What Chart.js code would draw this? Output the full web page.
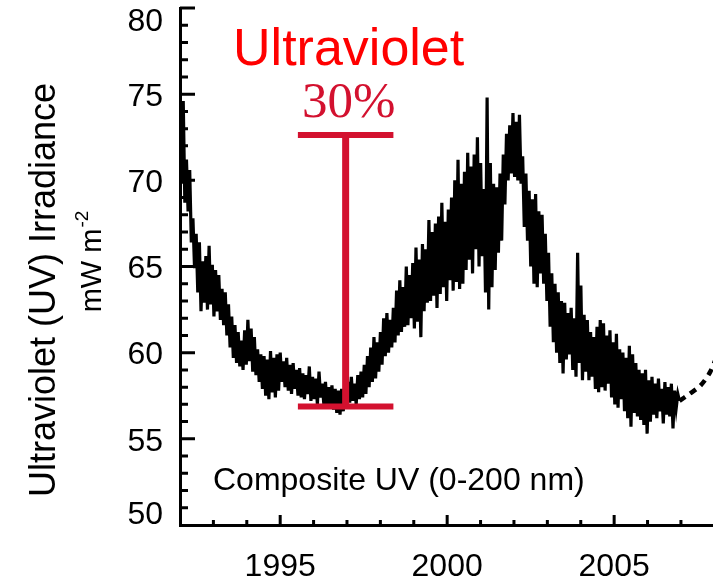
<!DOCTYPE html>
<html>
<head>
<meta charset="utf-8">
<script src="https://cdn.jsdelivr.net/npm/chart.js@4.4.1/dist/chart.umd.min.js"></script>
<style>
  html, body { margin: 0; padding: 0; background: #fff; overflow: hidden; }
</style>
</head>
<body>
<canvas id="chart" width="713" height="587"></canvas>
<script>
// composite UV, every ~0.048 yr (alternating high / low of the noisy band)
const START_YEAR = 1992.0;
const STEP = 0.0484;
const uvValues = [
  75.0, 69.8, 74.6, 68.7, 71.2, 68.2, 70.6, 66.4, 67.8, 64.9, 66.9, 63.5, 66.4, 62.4, 65.3, 62.9, 65.6, 62.5, 66.2, 62.8,
  65.1, 62.1, 64.8, 62.4, 64.5, 61.9, 63.7, 61.6, 63.5, 61.0, 62.8, 60.3, 62.1, 59.7, 61.6, 59.4, 61.2, 59.2, 60.7, 59.0,
  61.3, 59.3, 61.9, 59.5, 61.4, 58.9, 60.9, 58.7, 60.2, 58.3, 59.9, 57.9, 59.8, 57.5, 59.6, 57.3, 60.1, 57.7, 59.7, 57.4,
  59.9, 57.8, 60.0, 58.3, 59.5, 58.0, 59.7, 57.8, 59.3, 57.6, 59.4, 57.9, 59.0, 57.5, 59.1, 57.4, 58.8, 57.3, 58.7, 57.6,
  59.2, 57.2, 58.6, 57.3, 58.5, 57.0, 58.9, 57.4, 58.2, 57.0, 58.3, 56.9, 58.0, 56.8, 58.1, 56.7, 57.9, 56.5, 57.8, 56.4,
  57.9, 56.6, 58.2, 57.0, 58.3, 57.1, 58.6, 57.2, 58.2, 57.0, 58.7, 57.3, 58.9, 57.4, 59.3, 57.6, 59.8, 58.0, 60.3, 58.3,
  60.9, 58.5, 60.6, 58.9, 61.2, 59.3, 62.0, 59.8, 62.3, 60.0, 61.9, 60.3, 62.6, 60.6, 63.6, 61.0, 64.2, 61.2, 63.8, 61.5,
  65.0, 61.6, 64.5, 62.0, 65.2, 61.4, 66.1, 61.8, 65.4, 60.9, 66.3, 62.4, 66.0, 62.9, 67.7, 63.0, 67.0, 63.3, 67.5, 62.6,
  67.9, 63.4, 68.7, 63.8, 67.6, 63.0, 68.3, 64.2, 69.0, 63.6, 70.0, 64.1, 71.2, 63.7, 69.8, 64.0, 70.5, 64.8, 71.6, 65.4,
  70.8, 64.6, 71.5, 66.0, 72.5, 65.0, 71.0, 65.6, 69.5, 63.5, 74.8, 62.5, 71.0, 63.8, 69.8, 64.8, 69.6, 65.8, 70.4, 66.5,
  71.5, 68.6, 72.7, 70.0, 73.2, 70.4, 73.9, 70.2, 73.4, 70.0, 73.8, 69.8, 71.4, 67.3, 70.4, 66.5, 69.4, 65.0, 68.9, 64.0,
  69.2, 63.8, 68.2, 64.6, 68.0, 64.0, 66.9, 63.0, 65.8, 61.5, 64.6, 60.6, 64.0, 60.0, 63.5, 59.4, 63.0, 58.8, 62.9, 59.6,
  62.3, 59.9, 62.6, 59.0, 62.0, 58.6, 65.8, 59.4, 63.9, 58.4, 62.2, 58.9, 61.9, 58.4, 61.2, 58.6, 60.9, 57.9, 61.5, 57.7,
  61.9, 58.0, 61.7, 57.8, 61.0, 58.2, 61.3, 57.4, 60.6, 57.0, 61.1, 56.8, 60.2, 57.3, 60.0, 56.6, 59.7, 56.2, 60.4, 55.7,
  59.9, 56.5, 59.4, 56.3, 59.0, 56.1, 58.8, 55.8, 59.0, 55.3, 58.4, 56.0, 58.6, 56.4, 58.2, 56.2, 58.5, 56.6, 57.9, 55.9,
  58.3, 56.4, 58.0, 56.3, 58.2, 55.6, 57.8, 56.8, 57.6, 57.2
];

// dashed continuation at the right edge
const trendYears = [2006.956, 2007.25, 2007.59, 2007.88, 2008.17];
const trendValues = [57.2, 57.6, 58.1, 58.9, 60.3];

const xTicks = [1995, 2000, 2005];
const yTicks = [50, 55, 60, 65, 70, 75, 80];

// the red "30%" bar: minimum and maximum of the cycle
const barYear = 1996.96;
const barLow = 56.87;
const barHigh = 72.63;
const barHalfWidth = 1.43;

const FONT = "'Liberation Sans', Arial, Helvetica, sans-serif";
const BAR_RED = "#d3112f";

const uvPoints = uvValues.map((v, i) => ({ x: START_YEAR + i * STEP, y: v }));
const trendPoints = trendYears.map((yr, i) => ({ x: yr, y: trendValues[i] }));

// inward tick marks, IDL style, plus the y labels (end labels pulled inside like IDL does)
const tickMarks = {
  id: "tickMarks",
  afterDraw(chart) {
    const { ctx, chartArea: a, scales: { x, y } } = chart;
    ctx.save();
    ctx.strokeStyle = "#000";
    ctx.lineWidth = 3;
    ctx.beginPath();
    for (let v = 51; v <= 80; v++) {
      const py = y.getPixelForValue(v);
      const len = v % 5 === 0 ? 15 : 8;
      ctx.moveTo(a.left, py);
      ctx.lineTo(a.left + len, py);
    }
    for (let yr = 1993; yr <= 2007; yr++) {
      const px = x.getPixelForValue(yr);
      const len = yr % 5 === 0 ? 10 : 5;
      ctx.moveTo(px, a.bottom);
      ctx.lineTo(px, a.bottom - len);
    }
    ctx.stroke();

    ctx.fillStyle = "#000";
    ctx.font = "32px " + FONT;
    ctx.textAlign = "right";
    ctx.textBaseline = "middle";
    yTicks.forEach(v => {
      let py = y.getPixelForValue(v) + 3;
      if (v === 80) py += 11;
      if (v === 50) py -= 13;
      ctx.fillText(String(v), a.left - 17, py);
    });
    ctx.restore();
  }
};

// red range bar and its labels
const rangeBar = {
  id: "rangeBar",
  afterDatasetsDraw(chart) {
    const { ctx, scales: { x, y } } = chart;
    const cx = x.getPixelForValue(barYear);
    const x0 = x.getPixelForValue(barYear - barHalfWidth);
    const x1 = x.getPixelForValue(barYear + barHalfWidth);
    const top = y.getPixelForValue(barHigh);
    const bot = y.getPixelForValue(barLow);
    ctx.save();
    ctx.strokeStyle = BAR_RED;
    ctx.lineWidth = 6;
    ctx.beginPath();
    ctx.moveTo(x0, top); ctx.lineTo(x1, top);
    ctx.moveTo(x0, bot); ctx.lineTo(x1, bot);
    ctx.stroke();
    ctx.lineWidth = 7;
    ctx.beginPath();
    ctx.moveTo(cx, top); ctx.lineTo(cx, bot);
    ctx.stroke();

    ctx.textAlign = "center";
    ctx.textBaseline = "alphabetic";
    ctx.fillStyle = "#ff0000";
    ctx.font = "52px " + FONT;
    ctx.fillText("Ultraviolet", cx + 3, top - 70);
    ctx.fillStyle = BAR_RED;
    ctx.font = "51px 'Liberation Serif', 'Times New Roman', serif";
    ctx.fillText("30%", cx + 3, top - 18);
    ctx.restore();
  }
};

// axis title (two lines, second one with superscript) and panel label
const extraText = {
  id: "extraText",
  afterDraw(chart) {
    const { ctx, chartArea: a } = chart;
    ctx.save();
    ctx.fillStyle = "#000";
    ctx.font = "32px " + FONT;
    ctx.textAlign = "left";
    ctx.textBaseline = "alphabetic";
    ctx.fillText("Composite UV (0-200 nm)", a.left + 33, a.bottom - 35);

    ctx.translate(55, 290);
    ctx.rotate(-Math.PI / 2);
    ctx.textAlign = "center";
    ctx.font = "36px " + FONT;
    ctx.fillText("Ultraviolet (UV) Irradiance", 0, 0);

    ctx.font = "29px " + FONT;
    const unit = "mW m";
    const wUnit = ctx.measureText(unit).width;
    ctx.font = "19px " + FONT;
    const sup = "-2";
    const wSup = ctx.measureText(sup).width;
    const start = 28 - (wUnit + wSup) / 2;
    ctx.textAlign = "left";
    ctx.font = "29px " + FONT;
    ctx.fillText(unit, start, 46);
    ctx.font = "19px " + FONT;
    ctx.fillText(sup, start + wUnit + 1, 33);
    ctx.restore();
  }
};

new Chart(document.getElementById("chart"), {
  type: "scatter",
  data: {
    datasets: [
      {
        data: uvPoints,
        showLine: true,
        borderColor: "#000",
        borderWidth: 3.2,
        pointRadius: 0,
        tension: 0
      },
      {
        data: trendPoints,
        showLine: true,
        borderColor: "#000",
        borderWidth: 4.5,
        borderDash: [7, 6],
        pointRadius: 0,
        tension: 0.3
      }
    ]
  },
  options: {
    responsive: false,
    animation: false,
    layout: { padding: { top: 8, right: 0, left: 0, bottom: 0 } },
    plugins: { legend: { display: false }, tooltip: { enabled: false } },
    scales: {
      x: {
        type: "linear",
        min: 1992.0,
        max: 2007.96,
        afterBuildTicks: s => { s.ticks = xTicks.map(v => ({ value: v })); },
        afterFit: s => { s.height = 62; s.paddingLeft = 0; s.paddingRight = 0; },
        grid: { display: false, drawTicks: false },
        border: { display: true, color: "#000", width: 3 },
        ticks: {
          color: "#000",
          font: { family: FONT, size: 32 },
          padding: 23,
          maxRotation: 0,
          autoSkip: false,
          callback: v => String(v)
        }
      },
      y: {
        min: 50,
        max: 80,
        afterBuildTicks: s => { s.ticks = yTicks.map(v => ({ value: v })); },
        afterFit: s => { s.width = 180; s.paddingTop = 0; s.paddingBottom = 0; },
        grid: { display: false, drawTicks: false },
        border: { display: true, color: "#000", width: 3 },
        ticks: { display: false }
      }
    }
  },
  plugins: [tickMarks, rangeBar, extraText]
});
</script>
</body>
</html>
